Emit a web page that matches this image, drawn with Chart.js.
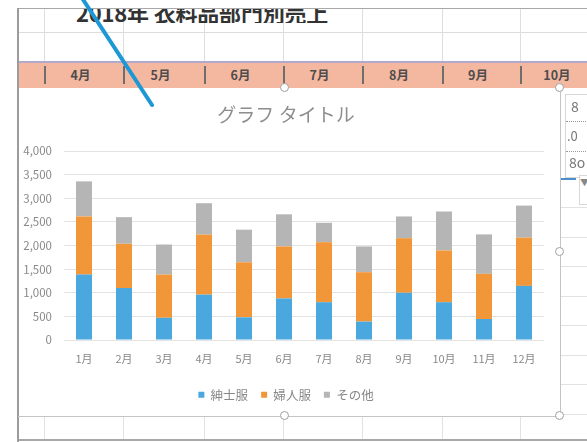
<!DOCTYPE html>
<html><head><meta charset="utf-8">
<script src="https://cdn.jsdelivr.net/npm/chart.js@4"></script>
<style>
html,body{margin:0;padding:0;width:587px;height:442px;overflow:hidden;background:#fff;font-family:"Noto Sans CJK JP","Noto Sans",sans-serif;}
.abs{position:absolute;}
</style></head><body>
<div id="sheet" class="abs" style="left:0;top:0;width:587px;height:442px;"></div>
<div id="chartbox" class="abs" style="left:12px;top:88px;width:548px;height:328px;background:#fff;"><canvas id="c" width="548" height="328" style="width:548px;height:328px;display:block;"></canvas></div>
<div id="over" class="abs" style="left:0;top:0;width:587px;height:442px;pointer-events:none;"></div>
<script>
// ---- data ----
const categories = ['1月','2月','3月','4月','5月','6月','7月','8月','9月','10月','11月','12月'];
const seriesNames = ['紳士服','婦人服','その他'];
const menswear   = [1385, 1100, 470, 960, 480, 880, 800, 390, 1000, 800, 445, 1145];
const womenswear = [1230,  936, 915, 1270, 1165, 1100, 1270, 1045, 1155, 1095, 955, 1020];
const others     = [ 742,  564, 636, 665, 690, 680, 410, 545, 460, 825, 835, 680];
const yTickLabels = ['0','500','1,000','1,500','2,000','2,500','3,000','3,500','4,000'];
const chartTitle = 'グラフ タイトル';
const sheetTitle = '2018年 衣料品部門別売上';
const sheetMonths = ['4月','5月','6月','7月','8月','9月','10月'];

// ---- spreadsheet background ----
const sheet = document.getElementById('sheet');
const over = document.getElementById('over');
function box(parent, l, t, w, h, css){
  const d = document.createElement('div');
  d.className = 'abs';
  d.style.cssText += `left:${l}px;top:${t}px;width:${w}px;height:${h}px;` + (css||'');
  parent.appendChild(d); return d;
}
const colX = [44,123,204,283,362,442,520,600];
box(sheet, 18, 8, 570, 1, 'background:#a8a8a8;');
box(sheet, 18, 32, 570, 1, 'background:#dcdcdc;');
box(sheet, 18, 61, 570, 2, 'background:#b3a9cc;');
box(sheet, 18, 63, 570, 25, 'background:#f4b8a0;');
box(sheet, 18, 439, 570, 2, 'background:#a8a8a8;');
colX.forEach(x=>{
  box(sheet, x, 9, 1, 52, 'background:#dedede;');
  box(sheet, x, 417, 1, 22, 'background:#e2e2e2;');
  box(sheet, x, 66, 1.5, 18, 'background:#6e6e6e;');
});
sheetMonths.forEach((m,i)=>{
  const l = colX[i], r = colX[i+1];
  const d = box(sheet, l, 64, r-l-6, 22, 'text-align:center;font-weight:bold;font-size:12.5px;line-height:22px;color:#4d4d4d;');
  d.textContent = m;
});
const ht = box(sheet, 76, 9, 300, 14, 'overflow:hidden;');
const htt = document.createElement('div');
htt.style.cssText = 'position:absolute;left:0;top:-10px;font-weight:bold;font-size:22px;line-height:26px;color:#333;white-space:nowrap;letter-spacing:-0.2px;';
htt.textContent = sheetTitle; ht.appendChild(htt);
for (let y = 207; y < 416; y += 29.5) box(sheet, 561, Math.round(y), 30, 1, 'background:#e2e2e2;');

// ---- overlays ----
box(over, 0, 0, 18, 442, 'background:#fff;');
box(over, 0, 0, 587, 8, 'background:#fff;');
box(over, 17, 8, 2, 434, 'background:#9c9c9c;');
box(over, 560, 88, 1, 328, 'background:#c4c4c4;');
box(over, 18, 416, 543, 1, 'background:#c4c4c4;');
const tb = box(over, 565, 94, 30, 82, 'background:#fff;border:1px solid #d8d8d8;');
const t1 = box(tb, 5, 2, 20, 18, 'font-size:14px;color:#777;line-height:18px;'); t1.textContent='8';
box(tb, 0, 26, 30, 0, 'border-top:1px dotted #999;');
const t2 = box(tb, 1, 33, 20, 16, 'font-size:13px;color:#777;line-height:16px;'); t2.textContent='.0';
box(tb, 0, 56, 30, 0, 'border-top:1px dotted #999;');
const t3 = box(tb, 3, 58, 24, 18, 'font-size:14px;color:#777;line-height:18px;'); t3.textContent='8o';
box(over, 561, 178, 15, 2, 'background:#4a8fcb;');
const dd = box(over, 579, 175, 12, 28, 'background:#fff;border:1px solid #d8d8d8;font-size:9px;color:#888;line-height:14px;');
dd.textContent='▼';
[[285,88],[560,88],[560,252],[285,416],[560,416]].forEach(([x,y])=>{
  box(over, x-5, y-5, 7, 7, 'border-radius:50%;background:#fff;border:1.8px solid #a0a0a0;');
});
over.insertAdjacentHTML('beforeend',
 '<svg class="abs" style="left:0;top:0" width="587" height="442"><line x1="82" y1="-2" x2="152" y2="105" stroke="#1e98d5" stroke-width="4" stroke-linecap="round"/></svg>');

// ---- chart ----
const F = '"Noto Sans CJK JP","Noto Sans",sans-serif';
const txt = '#888888';
new Chart(document.getElementById('c').getContext('2d'), {
  type: 'bar',
  data: {
    labels: categories,
    datasets: [
      {label: seriesNames[0], data: menswear,   backgroundColor: '#4aa8de', borderWidth: 0},
      {label: seriesNames[1], data: womenswear, backgroundColor: '#f29739', borderWidth: 0},
      {label: seriesNames[2], data: others,     backgroundColor: '#b5b5b5', borderWidth: 0}
    ]
  },
  options: {
    responsive: false,
    animation: false,
    layout: {padding: {left: 0, right: 0, top: 0, bottom: 5}},
    datasets: {bar: {barPercentage: 0.4, categoryPercentage: 1}},
    plugins: {
      title: {display: true, text: chartTitle, color: '#8e8e8e',
              font: {family: F, size: 19, weight: 'normal'}, padding: {top: 15.6, bottom: 24.6}},
      legend: {position: 'bottom',
               labels: {boxWidth: 6, boxHeight: 6, padding: 13, color: txt, font: {family: F, size: 12.5}}},
      tooltip: {enabled: false}
    },
    scales: {
      x: {stacked: true, grid: {display: false, drawTicks: false}, border: {display: false},
          ticks: {color: txt, font: {family: F, size: 11}, padding: 12, maxRotation: 0, autoSkip: false},
          afterFit: s => { s.height = 35.5; }},
      y: {stacked: true, min: 0, max: 4000,
          ticks: {stepSize: 500, padding: 12, color: txt, font: {family: F, size: 11.5},
                  callback: (v, i) => yTickLabels[i]},
          grid: {color: '#e3e3e3', drawTicks: false}, border: {display: false},
          afterFit: s => { s.width = 52; }},
      yR: {position: 'right', display: true, grid: {display: false}, border: {display: false},
           ticks: {display: false}, afterFit: s => { s.width = 16; }}
    }
  }
});
</script>
</body></html>
